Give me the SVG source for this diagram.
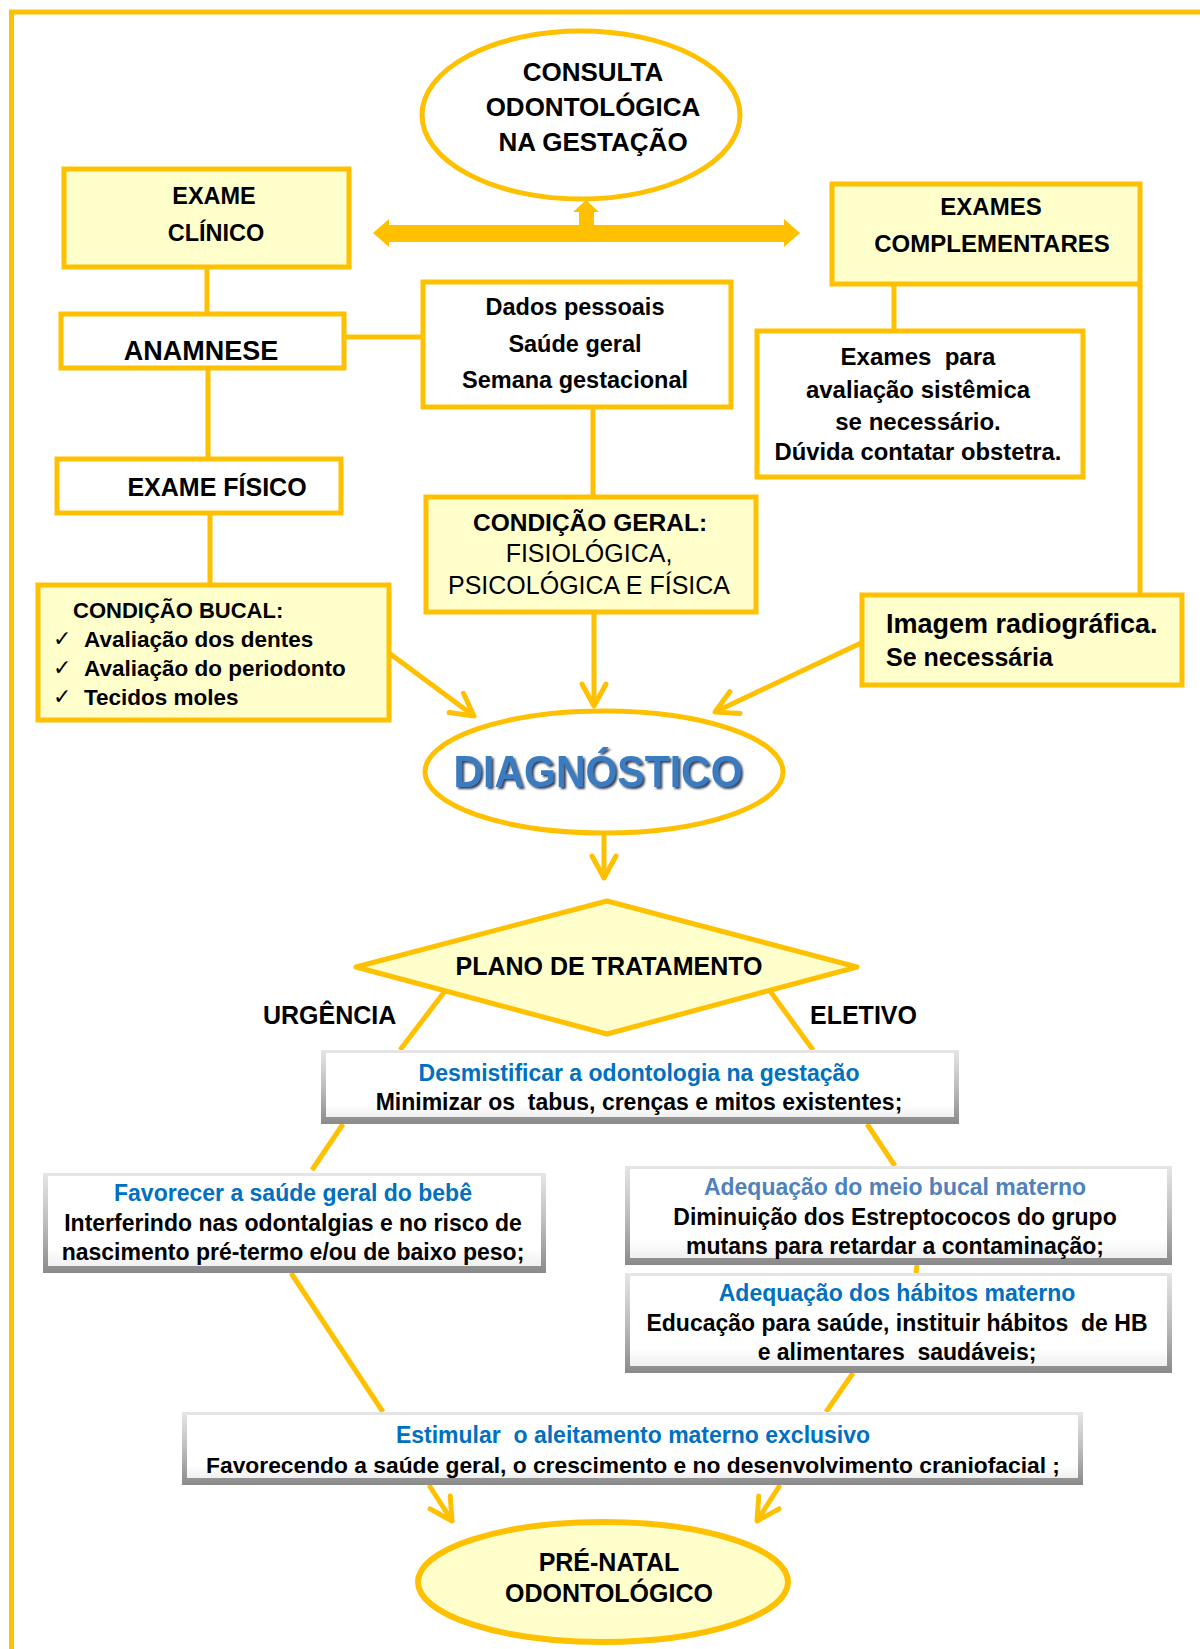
<svg xmlns="http://www.w3.org/2000/svg" width="1200" height="1649" viewBox="0 0 1200 1649">
<defs>
<style>
.t{font-family:"Liberation Sans",Arial,sans-serif;font-weight:bold;fill:#000;text-anchor:middle}
.tl{font-family:"Liberation Sans",Arial,sans-serif;font-weight:bold;fill:#000}
.reg{font-weight:normal}
.blue{fill:#0070C0}
.lblue{fill:#4F81BD}
.ybox{fill:#FFFFCC;stroke:#FFC000;stroke-width:5}
.wbox{fill:#FFFFFF;stroke:#FFC000;stroke-width:5}
.ln{stroke:#FFC000;stroke-width:5;fill:none}
.arr{stroke:#FFC000;stroke-width:5;fill:none;marker-end:url(#vh)}
.bo{fill:url(#bevO)}
.bi{fill:url(#bevI)}
.chk{font-family:"DejaVu Sans",sans-serif;font-size:22px;fill:#000}
</style>
<linearGradient id="bevO" x1="0" y1="0" x2="0" y2="1">
<stop offset="0" stop-color="#e6e6e6"/>
<stop offset="0.5" stop-color="#bdbdbd"/>
<stop offset="1" stop-color="#8a8a8a"/>
</linearGradient>
<linearGradient id="bevI" x1="0" y1="0" x2="0" y2="1">
<stop offset="0" stop-color="#ffffff"/>
<stop offset="0.8" stop-color="#ffffff"/>
<stop offset="1" stop-color="#f0f0f0"/>
</linearGradient>
<marker id="vh" markerUnits="userSpaceOnUse" viewBox="-28 -16 32 32" markerWidth="32" markerHeight="32" refX="0" refY="0" orient="auto">
<path d="M-22,-12 L0,0 L-22,12" fill="none" stroke="#FFC000" stroke-width="5" stroke-linecap="round" stroke-linejoin="round"/>
</marker>
<filter id="sh" x="-10%" y="-10%" width="120%" height="130%">
<feDropShadow dx="2" dy="2" stdDeviation="1" flood-color="#1a2a40" flood-opacity="0.9"/>
</filter>
</defs>

<g id="frame">
<path d="M11.5,1649 L11.5,12 L1200,12" class="ln"/>
</g>

<g id="connectors">
<line x1="207" y1="268" x2="207" y2="313" class="ln"/>
<line x1="344" y1="337" x2="422" y2="337" class="ln"/>
<line x1="208" y1="369" x2="208" y2="458" class="ln"/>
<line x1="210" y1="513" x2="210" y2="585" class="ln"/>
<line x1="593" y1="407" x2="593" y2="496" class="ln"/>
<line x1="594" y1="613" x2="594" y2="706" class="arr"/>
<line x1="389" y1="653" x2="474" y2="716" class="arr"/>
<line x1="861" y1="643" x2="715" y2="712" class="arr"/>
<line x1="894" y1="285" x2="894" y2="330" class="ln"/>
<line x1="1140" y1="285" x2="1140" y2="594" class="ln"/>
<line x1="604" y1="833" x2="604" y2="878" class="arr"/>
<line x1="445" y1="991" x2="400" y2="1050" class="ln"/>
<line x1="770" y1="991" x2="813" y2="1050" class="ln"/>
<line x1="343" y1="1124" x2="312" y2="1170" class="ln"/>
<line x1="867" y1="1124" x2="895" y2="1166" class="ln"/>
<line x1="917" y1="1265" x2="916" y2="1273" class="ln"/>
<line x1="291" y1="1273" x2="383" y2="1412" class="ln"/>
<line x1="853" y1="1373" x2="826" y2="1412" class="ln"/>
<line x1="429" y1="1485" x2="452" y2="1521" class="arr"/>
<line x1="780" y1="1485" x2="757" y2="1521" class="arr"/>
<polygon id="double-arrow" fill="#FFC000" points="373,233 389,219 389,225 579,225 579,212 573,212 586,200 599,212 594,212 594,225 784,225 784,219 800,233 784,247 784,242 389,242 389,247"/>
</g>

<g id="consulta">
<ellipse cx="581" cy="115" rx="159" ry="84" class="wbox"/>
<text class="t" x="593" y="81" font-size="26">CONSULTA</text>
<text class="t" x="593" y="116" font-size="26">ODONTOLÓGICA</text>
<text class="t" x="593" y="151" font-size="26">NA GESTAÇÃO</text>
</g>

<g id="exame-clinico">
<rect x="64" y="169" width="285" height="98" class="ybox"/>
<text class="t" x="214" y="204" font-size="23.5">EXAME</text>
<text class="t" x="216" y="241" font-size="23.5">CLÍNICO</text>
</g>

<g id="exames-complementares">
<rect x="832" y="184" width="308" height="100" class="ybox"/>
<text class="t" x="991" y="215" font-size="24">EXAMES</text>
<text class="t" x="992" y="252" font-size="24">COMPLEMENTARES</text>
</g>

<g id="anamnese">
<rect x="61" y="314" width="283" height="54" class="wbox"/>
<text class="t" x="201" y="360" font-size="27">ANAMNESE</text>
</g>

<g id="dados">
<rect x="423" y="282" width="308" height="125" class="wbox"/>
<text class="t" x="575" y="315" font-size="23.5">Dados pessoais</text>
<text class="t" x="575" y="352" font-size="23.5">Saúde geral</text>
<text class="t" x="575" y="388" font-size="23.5">Semana gestacional</text>
</g>

<g id="exames-para">
<rect x="757" y="331" width="326" height="146" class="wbox"/>
<text class="t" x="918" y="365" font-size="24" xml:space="preserve">Exames  para</text>
<text class="t" x="918" y="398" font-size="24">avaliação sistêmica</text>
<text class="t" x="918" y="430" font-size="24">se necessário.</text>
<text class="t" x="918" y="460" font-size="23.8">Dúvida contatar obstetra.</text>
</g>

<g id="exame-fisico">
<rect x="57" y="459" width="284" height="54" class="wbox"/>
<text class="t" x="217" y="496" font-size="25">EXAME FÍSICO</text>
</g>

<g id="condicao-geral">
<rect x="426" y="497" width="330" height="115" class="ybox"/>
<text class="t" x="590" y="531" font-size="24.5">CONDIÇÃO GERAL:</text>
<text class="t reg" x="589" y="562" font-size="25">FISIOLÓGICA,</text>
<text class="t reg" x="589" y="594" font-size="25">PSICOLÓGICA E FÍSICA</text>
</g>

<g id="condicao-bucal">
<rect x="38" y="585" width="351" height="135" class="ybox"/>
<text class="tl" x="73" y="618" font-size="22">CONDIÇÃO BUCAL:</text>
<text class="chk" x="53" y="646">✓</text>
<text class="chk" x="53" y="675">✓</text>
<text class="chk" x="53" y="704">✓</text>
<text class="tl" x="84" y="647" font-size="22.5">Avaliação dos dentes</text>
<text class="tl" x="84" y="676" font-size="22.5">Avaliação do periodonto</text>
<text class="tl" x="84" y="705" font-size="22.5">Tecidos moles</text>
</g>

<g id="imagem">
<rect x="862" y="595" width="320" height="90" class="ybox"/>
<text class="tl" x="886" y="633" font-size="27">Imagem radiográfica.</text>
<text class="tl" x="886" y="666" font-size="25">Se necessária</text>
</g>

<g id="diagnostico">
<ellipse cx="604" cy="772" rx="179" ry="61" class="wbox"/>
<text x="598" y="787" font-size="44" textLength="289" lengthAdjust="spacingAndGlyphs" filter="url(#sh)" style="font-family:'Liberation Sans',Arial,sans-serif;font-weight:bold;fill:#3A7CC0;text-anchor:middle">DIAGNÓSTICO</text>
</g>

<g id="plano">
<polygon points="356,967 607,901 857,967 607,1034" class="ybox" stroke-linejoin="round"/>
<text class="t" x="609" y="975" font-size="25">PLANO DE TRATAMENTO</text>
</g>

<g id="labels">
<text class="tl" x="263" y="1024" font-size="25">URGÊNCIA</text>
<text class="tl" x="810" y="1024" font-size="25">ELETIVO</text>
</g>

<g id="desmistificar">
<rect x="321" y="1050" width="638" height="74" class="bo"/>
<rect x="326" y="1053" width="628" height="64" class="bi"/>
<text class="t blue" x="639" y="1081" font-size="23">Desmistificar a odontologia na gestação</text>
<text class="t" x="639" y="1110" font-size="23" xml:space="preserve">Minimizar os  tabus, crenças e mitos existentes;</text>
</g>

<g id="favorecer">
<rect x="43" y="1173" width="503" height="100" class="bo"/>
<rect x="48" y="1176" width="493" height="90" class="bi"/>
<text class="t blue" x="293" y="1201" font-size="23">Favorecer a saúde geral do bebê</text>
<text class="t" x="293" y="1231" font-size="23">Interferindo nas odontalgias e no risco de</text>
<text class="t" x="293" y="1260" font-size="23">nascimento pré-termo e/ou de baixo peso;</text>
</g>

<g id="meio-bucal">
<rect x="625" y="1166" width="547" height="99" class="bo"/>
<rect x="630" y="1169" width="537" height="89" class="bi"/>
<text class="t lblue" x="895" y="1195" font-size="23">Adequação do meio bucal materno</text>
<text class="t" x="895" y="1225" font-size="23">Diminuição dos Estreptococos do grupo</text>
<text class="t" x="895" y="1254" font-size="23">mutans para retardar a contaminação;</text>
</g>

<g id="habitos">
<rect x="625" y="1273" width="547" height="100" class="bo"/>
<rect x="630" y="1276" width="537" height="90" class="bi"/>
<text class="t blue" x="897" y="1301" font-size="23">Adequação dos hábitos materno</text>
<text class="t" x="897" y="1331" font-size="23" xml:space="preserve">Educação para saúde, instituir hábitos  de HB</text>
<text class="t" x="897" y="1360" font-size="23" xml:space="preserve">e alimentares  saudáveis;</text>
</g>

<g id="estimular">
<rect x="182" y="1412" width="901" height="73" class="bo"/>
<rect x="187" y="1415" width="891" height="63" class="bi"/>
<text class="t blue" x="633" y="1443" font-size="23" xml:space="preserve">Estimular  o aleitamento materno exclusivo</text>
<text class="t" x="633" y="1473" font-size="22.8">Favorecendo a saúde geral, o crescimento e no desenvolvimento craniofacial ;</text>
</g>

<g id="pre-natal">
<ellipse cx="603" cy="1582" rx="185" ry="60" class="ybox" style="stroke-width:6"/>
<text class="t" x="609" y="1571" font-size="25">PRÉ-NATAL</text>
<text class="t" x="609" y="1602" font-size="25">ODONTOLÓGICO</text>
</g>
</svg>
